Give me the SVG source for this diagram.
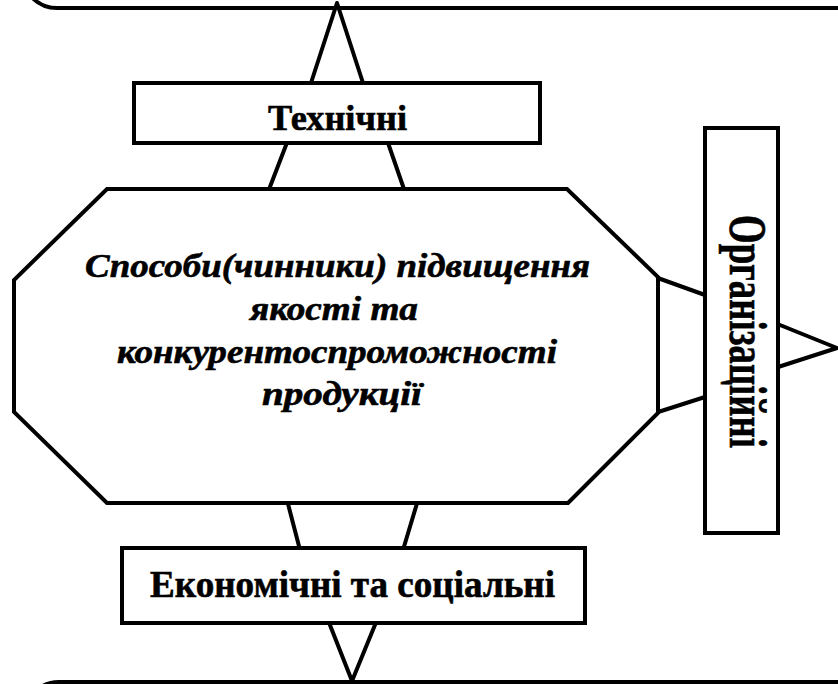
<svg xmlns="http://www.w3.org/2000/svg" width="838" height="684" viewBox="0 0 838 684">
<style>
.s{fill:#fff;stroke:#000;stroke-width:4;stroke-linejoin:miter}
.c{fill:#fff;stroke:#000;stroke-width:4;stroke-linejoin:round}
.t{font-family:"Liberation Serif","Times New Roman",serif;font-weight:bold;fill:#000;stroke:#000;stroke-width:0.6}
.i{font-style:italic;font-size:34px}
</style>
<rect width="838" height="684" fill="#fff"/>
<g id="top-frame"><rect class="s" x="22" y="-200" width="900" height="208" rx="35" ry="35"/></g>
<g id="bottom-frame"><rect class="s" x="24" y="682" width="900" height="200" rx="35" ry="35"/></g>
<g id="connectors">
<polygon class="c" points="337,3 310,86 364,86"/>
<polygon class="c" points="288,140 268,192 405,192 387,140"/>
<polygon class="c" points="655,277 705,295 705,397 655,413"/>
<polygon class="c" points="775,323 837,348 775,368"/>
<polygon class="c" points="287,500 300,550 403,550 418,500"/>
<polygon class="c" points="328,620 352,681 377,620"/>
</g>
<g id="node-technical">
<rect class="s" x="134" y="83" width="406" height="60"/>
<text class="t" x="268" y="130" font-size="36" textLength="139" lengthAdjust="spacingAndGlyphs">Технічні</text>
</g>
<g id="node-center">
<polygon class="s" points="107,189 567,189 658,277 658,413 568,503 107,503 14,412 14,280"/>
<text class="t i" x="85" y="277" textLength="505" lengthAdjust="spacingAndGlyphs">Способи(чинники) підвищення</text>
<text class="t i" x="250" y="320" textLength="168" lengthAdjust="spacingAndGlyphs">якості та</text>
<text class="t i" x="117" y="363" textLength="440" lengthAdjust="spacingAndGlyphs">конкурентоспроможності</text>
<text class="t i" x="262" y="405" textLength="160" lengthAdjust="spacingAndGlyphs">продукції</text>
</g>
<g id="node-organizational">
<rect class="s" x="705" y="128" width="73" height="405"/>
<text class="t" font-size="52" transform="translate(730,215) rotate(90)" x="0" y="0" textLength="233" lengthAdjust="spacingAndGlyphs">Організаційні</text>
</g>
<g id="node-economic">
<rect class="s" x="122" y="548" width="463" height="75"/>
<text class="t" x="150" y="597" font-size="37" textLength="405" lengthAdjust="spacingAndGlyphs">Економічні та соціальні</text>
</g>
</svg>
